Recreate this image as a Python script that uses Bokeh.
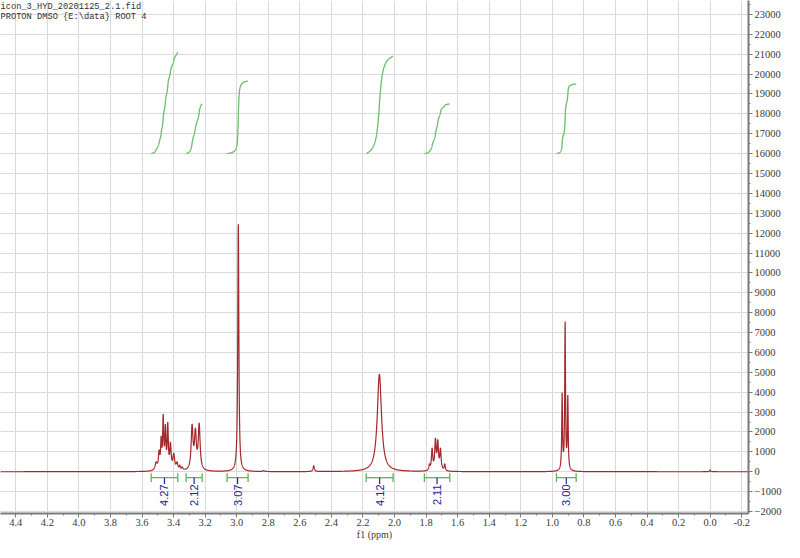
import numpy as np
from bokeh.plotting import figure
from bokeh.models import Range1d, SingleIntervalTicker, Label, PrintfTickFormatter
from bokeh.embed import file_html
from bokeh.resources import INLINE
from bokeh.core.properties import value

# ---------------- data ----------------
title_lines = ["icon_3_HYD_20201125_2.1.fid", "PROTON DMSO {E:\\data} ROOT 4"]
x_label = "f1 (ppm)"

# peak list: position (ppm), apex height (intensity), half width (ppm)
peak_ppm = [3.511, 3.492, 3.479, 3.466, 3.452, 3.437, 3.420, 3.399, 3.378, 3.361, 3.345,
            3.283, 3.262, 3.238,
            2.990, 2.830, 2.512, 2.096,
            1.779, 1.762, 1.741, 1.726, 1.709, 1.682,
            0.938, 0.919, 0.902, 0.000]
peak_height = [500, 1100, 1800, 2900, 2400, 2500, 1500, 930, 500, 340, 250,
               2400, 2200, 2460,
               12450, 60, 300, 4900,
               400, 1200, 1700, 1620, 1200, 400,
               3990, 7550, 3860, 100]
peak_hw = [0.008, 0.005, 0.004, 0.004, 0.004, 0.004, 0.005, 0.007, 0.006, 0.004, 0.005,
           0.007, 0.007, 0.007,
           0.004, 0.006, 0.005, 0.016,
           0.004, 0.005, 0.005, 0.005, 0.005, 0.004,
           0.003, 0.003, 0.003, 0.003]

# integration regions
integral_start = [3.542, 3.321, 3.061, 2.180, 1.811, 0.974]
integral_end = [3.374, 3.219, 2.928, 2.009, 1.650, 0.849]
integral_label = ["4.27", "2.12", "3.07", "4.12", "2.11", "3.00"]
integral_top = [21100, 18500, 19650, 20900, 18500, 19500]
integral_base = 16000

# ---------------- styling ----------------
SPEC_COLOR = "#a3282c"
INT_COLOR = "#6dbd6d"
BAR_COLOR = "#5cb45c"
LABEL_COLOR = "#23239b"
AXIS_COLOR = "#7a7a7a"
TEXT_COLOR = "#3a3a3a"
GRID_COLOR = "#dadada"

x0, x1 = 4.497, -0.243
y0, y1 = -2100, 23700

p = figure(width=784, height=542, output_backend="svg", toolbar_location=None,
           x_range=Range1d(x0, x1), y_range=Range1d(y0, y1),
           y_axis_location="right",
           min_border_left=0, min_border_top=0, min_border_right=36, min_border_bottom=0)
p.outline_line_color = None
p.background_fill_color = "white"

# spectrum from peak list
pp = np.array(peak_ppm, dtype=float)
hh = np.array(peak_height, dtype=float)
ww = np.array(peak_hw, dtype=float)
M = 1.0 / (1.0 + ((pp[:, None] - pp[None, :]) / ww[None, :]) ** 2)
amp = np.linalg.solve(M, hh)
amp = np.clip(amp, 0, None)

ppm = np.union1d(np.arange(-0.25, 4.50, 0.0005), pp)
spec = np.zeros_like(ppm)
for a, c, w in zip(amp, pp, ww):
    spec += a / (1.0 + ((ppm - c) / w) ** 2)

p.line(ppm, spec, line_color=SPEC_COLOR, line_width=1.2)

# integral curves, bars and labels
for s, e, lab, top in zip(integral_start, integral_end, integral_label, integral_top):
    m = (ppm <= s) & (ppm >= e)
    xs = ppm[m][::-1]
    ys = spec[m][::-1]
    cum = np.concatenate([[0.0], np.cumsum((ys[1:] + ys[:-1]) / 2.0)])
    cum = cum / cum[-1]
    p.line(xs, integral_base + (top - integral_base) * cum, line_color=INT_COLOR, line_width=1.3)

    mid = (s + e) / 2.0
    p.segment(x0=[s], y0=[-300], x1=[e], y1=[-300], line_color=BAR_COLOR, line_width=1.3)
    p.segment(x0=[s, e], y0=[-520, -520], x1=[s, e], y1=[-80, -80], line_color=BAR_COLOR, line_width=1.3)
    p.segment(x0=[mid], y0=[-300], x1=[mid], y1=[-620], line_color=LABEL_COLOR, line_width=1.2)
    p.text(x=[mid], y=[-640], text=[lab], angle=np.pi / 2, text_align="right", text_baseline="middle",
           text_color=LABEL_COLOR, text_font=value("Liberation Sans"), text_font_size="11px")

# header text
for i, t in enumerate(title_lines):
    p.add_layout(Label(x=x0, y=y1, text=t, text_align="left", text_baseline="top",
                       y_offset=-1 - 10 * i, x_offset=0,
                       text_font="Liberation Mono", text_font_size="8.7px", text_color="#303030"))

# axes
xa = p.xaxis[0]
xa.ticker = SingleIntervalTicker(interval=0.2, num_minor_ticks=2)
xa.formatter = PrintfTickFormatter(format="%.1f")
xa.axis_label = x_label
ya = p.yaxis[0]
ya.ticker = SingleIntervalTicker(interval=1000, num_minor_ticks=2)
for ax in (xa, ya):
    ax.axis_line_color = AXIS_COLOR
    ax.axis_line_width = 2
    ax.major_tick_line_color = AXIS_COLOR
    ax.minor_tick_line_color = AXIS_COLOR
    ax.major_tick_in = 0
    ax.major_tick_out = 4
    ax.minor_tick_in = 0
    ax.minor_tick_out = 2
    ax.major_label_text_font = "Liberation Serif"
    ax.major_label_text_font_size = "10.5px"
    ax.major_label_text_color = TEXT_COLOR
    ax.major_label_standoff = 2
    ax.axis_label_text_font = "Liberation Serif"
    ax.axis_label_text_font_size = "10px"
    ax.axis_label_text_font_style = "normal"
    ax.axis_label_text_color = TEXT_COLOR
    ax.axis_label_standoff = 0
xa.major_label_standoff = 1

p.xgrid[0].ticker = SingleIntervalTicker(interval=0.2)
p.ygrid[0].ticker = SingleIntervalTicker(interval=1000)
p.xgrid.grid_line_color = GRID_COLOR
p.ygrid.grid_line_color = GRID_COLOR
p.xgrid.grid_line_width = 1
p.ygrid.grid_line_width = 1

open("out.html", "w").write(file_html(p, INLINE))
